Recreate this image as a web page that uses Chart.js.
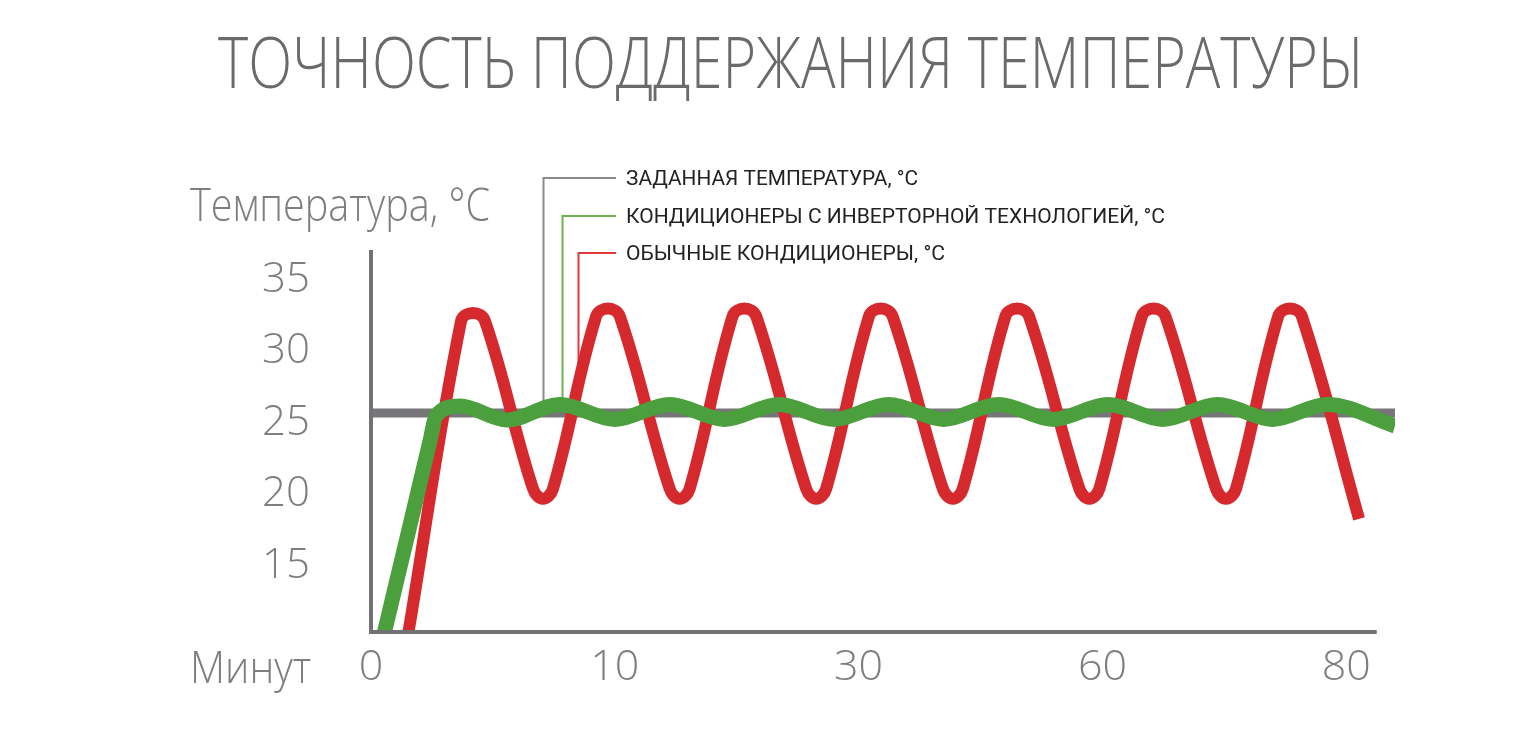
<!DOCTYPE html>
<html>
<head>
<meta charset="utf-8">
<script src="https://cdn.jsdelivr.net/npm/chart.js@4"></script>
<style>
  html, body { margin: 0; padding: 0; background: #fff; }
  #wrap { width: 1519px; height: 731px; }
</style>
</head>
<body>
<div id="wrap"><canvas id="chart" width="1519" height="731"></canvas></div>
<script>
// set temperature (grey)
const setTime = [0, 84];
const setTemp = [25.7, 25.7];

// conventional air conditioners (red)
const redTime = [3.0,
  7.39, 8.37, 9.35,   13.29, 14.11, 14.93,
  18.46, 19.44, 20.42, 24.50, 25.32, 26.14,
  29.65, 30.63, 31.61, 35.70, 36.52, 37.34,
  40.84, 41.82, 42.80, 46.91, 47.73, 48.55,
  52.03, 53.01, 53.99, 58.11, 58.93, 59.75,
  63.22, 64.20, 65.18, 69.32, 70.14, 70.96,
  74.41, 75.39, 76.37,
  81.05];
const redTemp = [10.0,
  32.14, 32.7, 32.14, 20.4, 19.7, 20.4,
  32.44, 33.0, 32.44, 20.4, 19.7, 20.4,
  32.44, 33.0, 32.44, 20.4, 19.7, 20.4,
  32.44, 33.0, 32.44, 20.4, 19.7, 20.4,
  32.44, 33.0, 32.44, 20.4, 19.7, 20.4,
  32.44, 33.0, 32.44, 20.4, 19.7, 20.4,
  32.44, 33.0, 32.44,
  18.29];

// inverter air conditioners (green)
const greenTime = [1.0, 2.95, 4.86, 5.33, 7.30, 11.16, 15.50, 20.0, 24.50, 28.99, 33.49, 37.98,
  42.48, 46.97, 51.47, 55.96, 60.46, 64.95, 69.45, 73.95, 78.45, 84.0];
const greenTemp = [10.0, 16.96, 23.81, 25.49, 26.19, 25.21, 26.3, 25.25, 26.3, 25.25, 26.3, 25.25,
  26.3, 25.25, 26.3, 25.25, 26.3, 25.25, 26.3, 25.25, 26.3, 24.79];

const yTicks = [15, 20, 25, 30, 35];
const xTickValues = [0, 20, 40, 60, 80];
const xTickLabels = ['0', '10', '30', '60', '80'];

const titleText = 'ТОЧНОСТЬ ПОДДЕРЖАНИЯ ТЕМПЕРАТУРЫ';
const yTitle = 'Температура, °C';
const xTitle = 'Минут';
const legendLabels = [
  'ЗАДАННАЯ ТЕМПЕРАТУРА, °C',
  'КОНДИЦИОНЕРЫ С ИНВЕРТОРНОЙ ТЕХНОЛОГИЕЙ, °C',
  'ОБЫЧНЫЕ КОНДИЦИОНЕРЫ, °C'
];

const RED = '#d5292d';
const GREEN = '#4b9f3d';
const GREY = '#767679';
const LIGHT = '"Open Sans", "Noto Sans", sans-serif';

function pts(xs, ys) {
  return xs.map((x, i) => ({ x: x, y: ys[i] }));
}

function fitText(ctx, text, x, y, width, font, color) {
  ctx.save();
  ctx.font = font;
  ctx.fillStyle = color;
  ctx.textAlign = 'left';
  ctx.textBaseline = 'alphabetic';
  const w = ctx.measureText(text).width;
  ctx.translate(x, y);
  ctx.scale(width / w, 1);
  ctx.fillText(text, 0, 0);
  ctx.restore();
}

// bracket lines of the legend, drawn under the series
const legendLines = {
  id: 'legendLines',
  beforeDatasetsDraw(chart) {
    const ctx = chart.ctx, xs = chart.scales.x, ys = chart.scales.y;
    const top = chart.chartArea.top;
    const rows = [
      { x: 14.11, y: top - 72, end: 25.9, color: '#8a8a8c' },
      { x: 15.67, y: top - 34, end: 26.5, color: '#6db24f' },
      { x: 16.98, y: top + 3, end: 28.6, color: '#e0393b' }
    ];
    const xEnd = xs.getPixelForValue(20.1);
    ctx.save();
    ctx.lineWidth = 2;
    rows.forEach(r => {
      const px = Math.round(xs.getPixelForValue(r.x)) + 0.5;
      ctx.strokeStyle = r.color;
      ctx.beginPath();
      ctx.moveTo(xEnd, r.y);
      ctx.lineTo(px, r.y);
      ctx.lineTo(px, ys.getPixelForValue(r.end));
      ctx.stroke();
    });
    ctx.restore();
  },
  afterDraw(chart) {
    const ctx = chart.ctx, xs = chart.scales.x, area = chart.chartArea;
    const top = area.top;
    // axes
    ctx.save();
    ctx.strokeStyle = '#727275';
    ctx.lineWidth = 4;
    ctx.beginPath();
    ctx.moveTo(area.left, area.top);
    ctx.lineTo(area.left, area.bottom + 2);
    ctx.lineTo(xs.getPixelForValue(82.5), area.bottom + 2);
    ctx.stroke();
    ctx.restore();

    fitText(ctx, titleText, 218, 88, 1146, '300 72px ' + LIGHT, '#6a6a6a');
    fitText(ctx, yTitle, 190, 221, 300, '300 46px ' + LIGHT, '#7e7e7e');
    fitText(ctx, xTitle, 190, 683, 121, '300 44px ' + LIGHT, '#7e7e7e');

    const legendX = xs.getPixelForValue(20.92);
    const widths = [292, 539, 319];
    const ys = [top - 65, top - 27, top + 10];
    legendLabels.forEach((t, i) => {
      fitText(ctx, t, legendX, ys[i], widths[i], '400 20px Roboto, sans-serif', '#222222');
    });
  }
};

new Chart(document.getElementById('chart'), {
  type: 'line',
  data: {
    datasets: [
      {
        label: 'Кондиционеры с инверторной технологией, °C',
        data: pts(greenTime, greenTemp),
        borderColor: GREEN,
        borderWidth: 15,
        cubicInterpolationMode: 'monotone',
        borderCapStyle: 'butt',
        borderJoinStyle: 'round',
        pointRadius: 0,
        fill: false,
        clip: 0
      },
      {
        label: 'Обычные кондиционеры, °C',
        data: pts(redTime, redTemp),
        borderColor: RED,
        borderWidth: 12,
        tension: 0.4,
        borderCapStyle: 'butt',
        borderJoinStyle: 'round',
        pointRadius: 0,
        fill: false,
        clip: 0
      },
      {
        label: 'Заданная температура, °C',
        data: pts(setTime, setTemp),
        borderColor: GREY,
        borderWidth: 9,
        tension: 0,
        borderCapStyle: 'butt',
        pointRadius: 0,
        fill: false,
        clip: 0
      }
    ]
  },
  options: {
    responsive: false,
    animation: false,
    layout: { padding: { left: 171, right: 124, top: 250, bottom: 31 } },
    plugins: {
      legend: { display: false },
      tooltip: { enabled: false },
      title: { display: false }
    },
    scales: {
      x: {
        type: 'linear',
        min: 0,
        max: 84,
        grid: { display: false, drawTicks: false },
        border: { display: false },
        afterBuildTicks: s => { s.ticks = xTickValues.map(v => ({ value: v })); },
        afterFit: s => { s.height = 70; },
        ticks: {
          padding: 12,
          color: '#7e7e7e',
          font: { family: LIGHT, size: 43, weight: '300' },
          maxRotation: 0,
          autoSkip: false,
          callback: (v, i) => xTickLabels[i]
        }
      },
      y: {
        type: 'linear',
        min: 10.52,
        max: 37.1,
        grid: { display: false, drawTicks: false },
        border: { display: false },
        afterBuildTicks: s => { s.ticks = yTicks.map(v => ({ value: v })); },
        afterFit: s => { s.width = 200; },
        ticks: {
          padding: 61,
          color: '#7e7e7e',
          font: { family: LIGHT, size: 42, weight: '300' },
          callback: v => String(v)
        }
      }
    }
  },
  plugins: [legendLines]
});
</script>
</body>
</html>
